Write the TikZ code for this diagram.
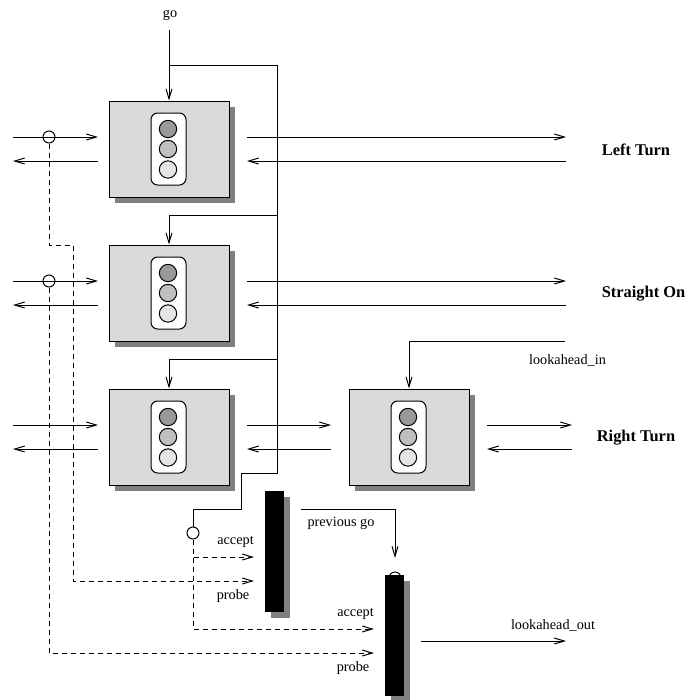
\documentclass[tikz,border=0pt]{standalone}
\usepackage{fontspec}
\setmainfont{Liberation Serif}
\usetikzlibrary{arrows.meta}
\tikzset{
	wire/.style={line width=0.75pt},
	probewire/.style={wire, dash pattern=on 3.75pt off 3pt},
	sigbox/.style={draw, line width=0.75pt, fill=black!15, minimum width=90pt, minimum height=72pt, inner sep=0pt},
	sigshade/.style={fill=black!50, minimum width=90pt, minimum height=72pt, inner sep=0pt},
	sigcase/.style={draw, line width=0.75pt, fill=white, rounded corners=5pt, minimum width=26.25pt, minimum height=54pt, inner sep=0pt},
	siglamp/.style={circle, draw, line width=0.75pt, minimum size=13pt, inner sep=0pt},
	latchbar/.style={fill=black, minimum width=14.25pt, minimum height=90.75pt, inner sep=0pt},
	latchshade/.style={fill=black!50, minimum width=14.25pt, minimum height=90.75pt, inner sep=0pt},
	tap/.style={circle, draw, line width=0.75pt, minimum size=9pt, inner sep=0pt},
	lbl/.style={font=\fontsize{10.7pt}{12pt}\selectfont, inner sep=0pt},
	turn/.style={font=\fontsize{12.3pt}{14pt}\selectfont\bfseries, inner sep=0pt}
}
\begin{document}
\begin{tikzpicture}[x=0.75pt, y=-0.75pt, >={Straight Barb[length=7.5pt, width=4.5pt]}]
	\useasboundingbox (0,0) rectangle (686,700);
	\foreach \name/\cx/\cy in {boxa/169/149, boxb/169/293, boxc/169/437, boxd/409/437}{
		\node[sigshade] (\name-sh) at (\cx+6,\cy+6) {};
		\node[sigbox] (\name) at (\cx,\cy) {};
		\node[sigcase] (\name-case) at (\cx-0.5,\cy) {};
		\node[siglamp, fill=black!40] (\name-top) at (\cx-1,\cy-20) {};
		\node[siglamp, fill=black!25] (\name-mid) at (\cx-1,\cy) {};
		\node[siglamp, fill=black!10] (\name-low) at (\cx-1,\cy+20.5) {};
	}
	\foreach \name/\xa/\xb/\yt in {wa/13/98/137, ea/247/566/137, wb/13/98/281, eb/247/566/281, wc/13/98/425, ec/247/331/425, ed/487/572/425}{
		\coordinate (\name-s) at (\xa,\yt);
		\coordinate (\name-e) at (\xb,\yt);
		\coordinate (\name-r) at (\xa,\yt+24);
		\coordinate (\name-t) at (\xb,\yt+24);
		\draw[wire, ->] (\name-s) -- (\name-e);
		\draw[wire, ->] (\name-t) -- (\name-r);
	}

	\coordinate (goin) at (169,30);
	\coordinate (busa) at (169,65);
	\coordinate (busne) at (277,65);
	\coordinate (busb) at (277,215);
	\coordinate (busc) at (277,359);
	\coordinate (busse) at (277,473);
	\coordinate (busjog) at (241,473);
	\coordinate (buslow) at (241,509);
	\coordinate (busend) at (193,509);
	\node[tap] (tapc) at (193,533) {};
	\draw[wire, ->] (goin) -- (boxa.north);
	\draw[wire] (busa) -- (busne) -- (busse) -- (busjog) -- (buslow) -- (busend) -- (tapc.north);
	\draw[wire, ->] (busb) -| (boxb.north);
	\draw[wire, ->] (busc) -| (boxc.north);

	\coordinate (lain) at (565,341);
	\draw[wire, ->] (lain) -| (boxd.north);

	\node[tap] (tapa) at (49,137) {};
	\node[tap] (tapb) at (49,281) {};
	\coordinate (joga) at (73,245);
	\coordinate (probea) at (254,581);
	\coordinate (accepta) at (254,557);
	\coordinate (acceptb) at (374,629);
	\coordinate (probeb) at (374,653);
	\draw[probewire, ->] (tapa.south) |- (joga) |- (probea);
	\draw[probewire, ->] (tapb.south) |- (probeb);
	\draw[probewire, ->] (tapc.south) |- (acceptb);
	\draw[probewire, ->] (tapc.south) |- (accepta);

	\node[latchshade] (bara-sh) at (280.5,557) {};
	\node[latchbar] (bara) at (274.5,551) {};
	\node[tap, fill=white] (tapd) at (395,578) {};
	\node[latchshade] (barb-sh) at (400.5,641) {};
	\node[latchbar] (barb) at (394.5,635) {};

	\coordinate (prevgo) at (301,509);
	\coordinate (prevtip) at (395,558);
	\draw[wire, ->] (prevgo) -| (prevtip);
	\coordinate (lookout) at (421,641);
	\coordinate (lookend) at (566,641);
	\draw[wire, ->] (lookout) -- (lookend);

	\node[lbl] (golbl) at (170,15.5) {go};
	\node[lbl] (lainlbl) at (567.5,360) {lookahead\_in};
	\node[lbl] (prevlbl) at (341,523) {previous go};
	\node[lbl] (acceptalbl) at (235.5,542) {accept};
	\node[lbl] (probealbl) at (233,596) {probe};
	\node[lbl] (acceptblbl) at (355.5,614) {accept};
	\node[lbl] (probeblbl) at (353,668) {probe};
	\node[lbl] (outlbl) at (553,625) {lookahead\_out};
	\node[turn] (leftlbl) at (636,149.5) {Left Turn};
	\node[turn] (strlbl) at (643.5,293.5) {Straight On};
	\node[turn] (rightlbl) at (636,437.5) {Right Turn};
\end{tikzpicture}
\end{document}
